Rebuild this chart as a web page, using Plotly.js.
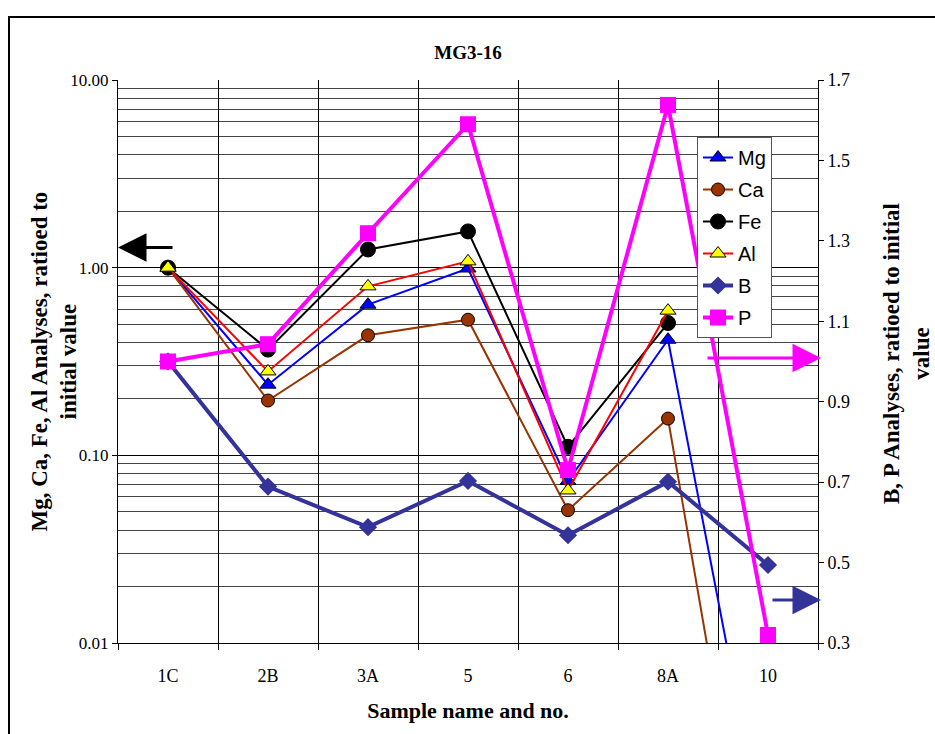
<!DOCTYPE html>
<html>
<head>
<meta charset="utf-8">
<script src="https://cdn.plot.ly/plotly-3.0.1.min.js"></script>
<style>html,body{margin:0;padding:0;background:#fff;}#chart{width:935px;height:734px;}</style>
</head>
<body>
<div id="chart"></div>
<script>
// Data
const categories = ['1C', '2B', '3A', '5', '6', '8A', '10'];
const mgValues = [1.0, 0.238, 0.635, 0.99, 0.073, 0.413, 0.0007];
const caValues = [1.0, 0.196, 0.436, 0.528, 0.051, 0.157, 0.00013];
const feValues = [1.0, 0.366, 1.25, 1.56, 0.111, 0.507, null];
const alValues = [1.0, 0.28, 0.795, 1.08, 0.065, 0.59, null];
const bValues = [1.0, 0.689, 0.588, 0.703, 0.568, 0.701, 0.494];
const pValues = [1.0, 1.043, 1.319, 1.59, 0.730, 1.638, 0.32];
const leftTickVals = [0.01, 0.1, 1, 10];
const leftTickText = ['0.01', '0.10', '1.00', '10.00'];
const leftTitle = 'Mg, Ca, Fe, Al Analyses, ratioed to<br>initial value';
const rightTitle = 'B, P Analyses, ratioed to initial<br>value';

const serif = 'Liberation Serif, Times New Roman, serif';
const sans = 'Liberation Sans, Arial, sans-serif';

function tr(name, y, lineColor, lineWidth, symbol, size, fill, outline, axis, grp) {
  return {
    type: 'scatter', mode: 'lines+markers', name: name,
    x: categories, y: y, yaxis: axis, legendgroup: grp,
    connectgaps: false,
    line: {color: lineColor, width: lineWidth},
    marker: {symbol: symbol, size: size, color: fill, line: {color: outline, width: outline ? 1 : 0}},
    cliponaxis: true
  };
}

const data = [
  tr('Mg', mgValues, '#0000FF', 2, 'triangle-up', 14, '#0000FF', '#000000', 'y', 'g1'),
  tr('Ca', caValues, '#993300', 2, 'circle', 13, '#993300', '#000000', 'y', 'g2'),
  tr('Fe', feValues, '#000000', 2, 'circle', 15, '#000000', '#000000', 'y', 'g3'),
  tr('Al', alValues, '#FF0000', 2, 'triangle-up', 14, '#FFFF00', '#000000', 'y', 'g4'),
  tr('B', bValues, '#333399', 4, 'diamond', 14, '#333399', null, 'y2', 'g5'),
  tr('P', pValues, '#FF00FF', 4, 'square', 16, '#FF00FF', null, 'y2', 'g6')
];

const layout = {
  width: 935, height: 734,
  margin: {l: 118, r: 117, t: 80, b: 91, pad: 0},
  paper_bgcolor: '#ffffff', plot_bgcolor: '#ffffff',
  font: {family: serif, color: '#000000'},
  showlegend: true,
  title: {text: '<b>MG3-16</b>', font: {family: serif, size: 19, color: '#000'},
          x: 0.5, xref: 'paper', xanchor: 'center', y: 1 - 52 / 734, yanchor: 'middle'},
  xaxis: {
    type: 'category', range: [-0.5, 6.5], tickson: 'boundaries',
    showgrid: true, gridcolor: '#000000', gridwidth: 1,
    ticks: 'outside', ticklen: 6, tickcolor: '#000', tickwidth: 1,
    showline: true, linecolor: '#000', linewidth: 1, zeroline: false,
    tickfont: {family: serif, size: 18}, ticklabelstandoff: 16,
    title: {text: '<b>Sample name and no.</b>', font: {family: serif, size: 22}, standoff: 18}
  },
  yaxis: {
    type: 'log', range: [-2, 1], tickmode: 'array', tickvals: leftTickVals, ticktext: leftTickText,
    showgrid: true, gridcolor: '#000000', gridwidth: 1,
    minor: {dtick: 'D1', showgrid: true, gridcolor: '#444444', gridwidth: 1, ticks: ''},
    ticks: 'outside', ticklen: 5, tickcolor: '#000',
    showline: true, linecolor: '#000', linewidth: 1, zeroline: false,
    tickfont: {family: serif, size: 17}
  },
  yaxis2: {
    overlaying: 'y', side: 'right', range: [0.3, 1.7], tickmode: 'linear', tick0: 0.3, dtick: 0.2,
    tickformat: '.1f', showgrid: false, zeroline: false,
    ticks: 'outside', ticklen: 5, tickcolor: '#000',
    showline: true, linecolor: '#000', linewidth: 1,
    tickfont: {family: serif, size: 18}
  },
  legend: {
    x: (697 - 118) / 700, xanchor: 'left', y: (643 - 137) / 563, yanchor: 'top',
    bgcolor: '#ffffff', bordercolor: '#555555', borderwidth: 1,
    font: {family: sans, size: 20, color: '#000'},
    tracegroupgap: 3, itemwidth: 30, traceorder: 'grouped'
  },
  shapes: [
    {type: 'rect', xref: 'paper', yref: 'paper',
     x0: (9 - 118) / 700, x1: (945 - 118) / 700, y0: (643 - 745) / 563, y1: (643 - 17) / 563,
     line: {color: '#000', width: 2}, fillcolor: 'rgba(0,0,0,0)', layer: 'below'}
  ],
  annotations: [
    // axis titles
    {xref: 'paper', yref: 'paper', x: (54 - 118) / 700, y: 0.5, xanchor: 'center', yanchor: 'middle',
     textangle: -90, showarrow: false, text: '<b>' + leftTitle + '</b>',
     font: {family: serif, size: 23, color: '#000'}},
    {xref: 'paper', yref: 'paper', x: (906 - 118) / 700, y: (643 - 354) / 563, xanchor: 'center', yanchor: 'middle',
     textangle: -90, showarrow: false, text: '<b>' + rightTitle + '</b>',
     font: {family: serif, size: 23, color: '#000'}},
    // arrows
    {xref: 'paper', yref: 'paper', x: 0, y: (643 - 247.5) / 563, ax: 56, ay: 0, axref: 'pixel', ayref: 'pixel',
     showarrow: true, arrowhead: 2, arrowsize: 1.9, arrowwidth: 3, arrowcolor: '#000', text: ''},
    {xref: 'paper', yref: 'paper', x: (821 - 118) / 700, y: (643 - 358) / 563, ax: -115, ay: 0,
     showarrow: true, arrowhead: 2, arrowsize: 1.9, arrowwidth: 3, arrowcolor: '#FF00FF', text: ''},
    {xref: 'paper', yref: 'paper', x: (821 - 118) / 700, y: (643 - 600) / 563, ax: -50, ay: 0,
     showarrow: true, arrowhead: 2, arrowsize: 1.9, arrowwidth: 3, arrowcolor: '#333399', text: ''}
  ]
};

Plotly.newPlot('chart', data, layout, {displayModeBar: false, staticPlot: true});
</script>
</body>
</html>
